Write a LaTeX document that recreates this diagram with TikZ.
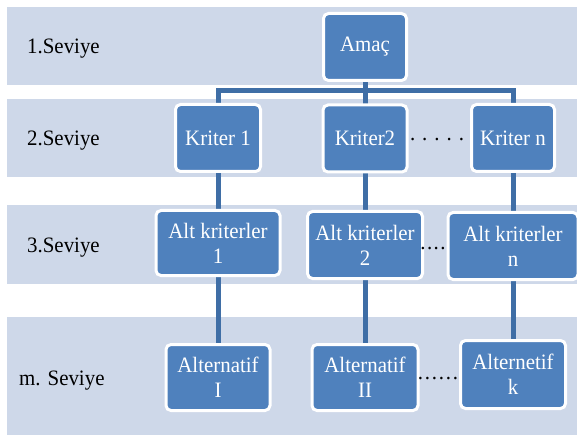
\documentclass[tikz,border=0pt]{standalone}
\usepackage{fontspec}
\setmainfont[FakeStretch=0.95]{Liberation Serif}
\usetikzlibrary{backgrounds}
\definecolor{band}{HTML}{CED8E9}
\definecolor{boxblue}{HTML}{4F81BD}
\definecolor{linkblue}{HTML}{3F6EA6}
\begin{document}
\begin{tikzpicture}[x=1pt,y=-1pt,
  box/.style={fill=boxblue,draw=white,line width=3pt,rounded corners=5pt,text=white,inner sep=0pt,align=center,font=\rmfamily\fontsize{22}{25}\selectfont},
  lvl/.style={anchor=base west,inner sep=0pt,font=\rmfamily\fontsize{22}{25}\selectfont},
  dotsnode/.style={anchor=base,inner sep=0pt,font=\rmfamily\fontsize{22}{25}\selectfont},
  link/.style={draw=linkblue,line width=5pt}]
\useasboundingbox (0,0) rectangle (577,435);
\begin{pgfonlayer}{background}
\fill[band] (7,7) rectangle (577,85);
\fill[band] (7,99) rectangle (577,177);
\fill[band] (7,205) rectangle (577,284);
\fill[band] (7,317) rectangle (577,435);
\end{pgfonlayer}
% level labels
\node[lvl] (l1) at (27,54) {1.Seviye};
\node[lvl] (l2) at (27,145.5) {2.Seviye};
\node[lvl] (l3) at (27,252.5) {3.Seviye};
\node[lvl] (lm) at (19,385.5) {m. Seviye};
% boxes
\node[box,minimum width=83pt,minimum height=67pt] (amac) at (365,47) {Amaç};
\node[box,minimum width=85pt,minimum height=67pt] (k1) at (218,138) {Kriter 1};
\node[box,minimum width=84pt,minimum height=67pt] (k2) at (365,138.5) {Kriter2};
\node[box,minimum width=83pt,minimum height=67pt] (kn) at (513,138) {Kriter n};
\node[box,minimum width=124pt,minimum height=65pt] (a1) at (218,243) {Alt kriterler\\1};
\node[box,minimum width=115pt,minimum height=67pt] (a2) at (365,245) {Alt kriterler\\2};
\node[box,minimum width=130pt,minimum height=67pt] (an) at (513,246) {Alt kriterler\\n};
\node[box,minimum width=104pt,minimum height=66pt] (alt1) at (218,377.5) {Alternatif\\I};
\node[box,minimum width=106pt,minimum height=66pt] (alt2) at (365,377.5) {Alternatif\\II};
\node[box,minimum width=105pt,minimum height=68pt] (altk) at (513,374.5) {Alternetif\\k};
% dots
\node[dotsnode] (d2) at (437,141) {. . . . .};
\node[dotsnode] (d3) at (433,249) {.\kern1.5pt.\kern1.5pt.\kern1.5pt.};
\node[dotsnode] (dm) at (438,379) {.\kern1.8pt.\kern1.8pt.\kern1.8pt.\kern1.8pt.\kern1.8pt.};
% connectors
\coordinate (bus) at (365,91);
\begin{pgfonlayer}{background}
\draw[link] (amac.center) -- (bus);
\draw[link] (k1.center) |- (bus) -| (kn.center);
\draw[link] (k2.center) -- (bus);
\draw[link] (k1.center) -- (a1.center) -- (alt1.center);
\draw[link] (k2.center) -- (a2.center) -- (alt2.center);
\draw[link] (kn.center) -- (an.center) -- (altk.center);
\end{pgfonlayer}
\end{tikzpicture}
\end{document}
